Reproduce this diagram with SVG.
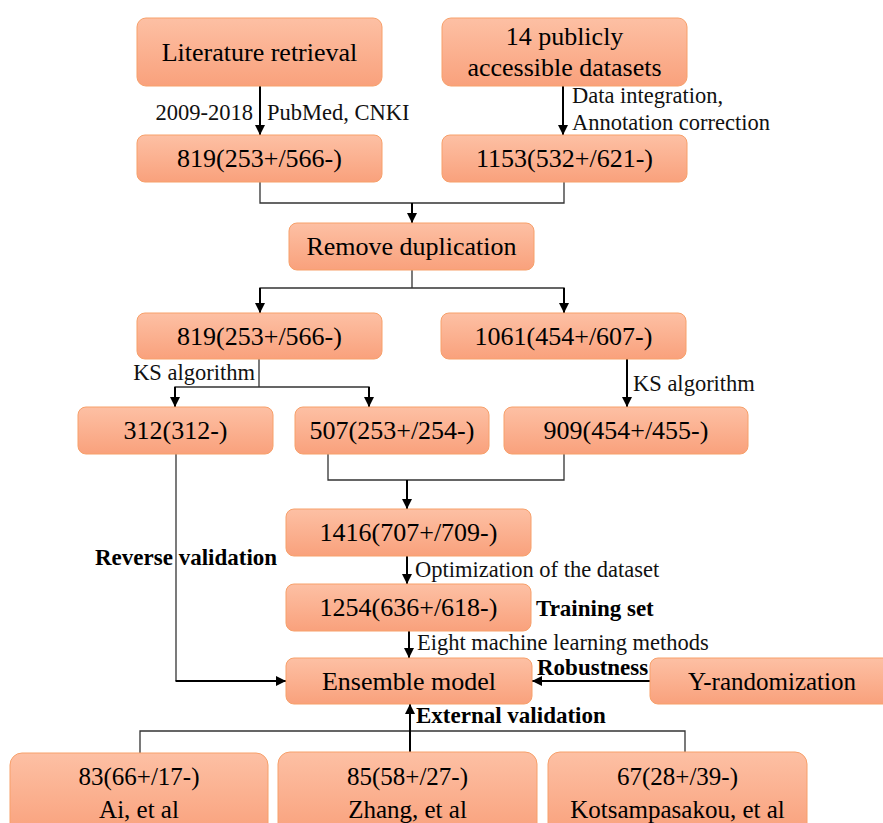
<svg xmlns="http://www.w3.org/2000/svg" width="883" height="823" viewBox="0 0 883 823">
<defs>
<linearGradient id="g" x1="0" y1="0" x2="0" y2="1">
<stop offset="0" stop-color="#fdc0a4"/>
<stop offset="1" stop-color="#f9a17c"/>
</linearGradient>
<marker id="ah" viewBox="0 0 10 10" refX="10" refY="5" markerWidth="5" markerHeight="5" orient="auto" markerUnits="strokeWidth">
<path d="M0,0 L10,5 L0,10 z" fill="#000"/>
</marker>
<style>
.box{fill:url(#g);stroke:#f7a06a;stroke-width:1}
.t{font-family:"Liberation Serif","DejaVu Serif",serif;font-size:26px;fill:#000;text-anchor:middle}
.tb{font-family:"Liberation Serif","DejaVu Serif",serif;font-size:25px;fill:#000;text-anchor:middle}
.l{font-family:"Liberation Serif","DejaVu Serif",serif;font-size:22.5px;fill:#111}
.lb{font-family:"Liberation Serif","DejaVu Serif",serif;font-size:23px;font-weight:bold;fill:#000}
.ln{fill:none;stroke:#333;stroke-width:1.3}
.ar{fill:none;stroke:#000;stroke-width:2;marker-end:url(#ah)}
</style>
</defs>
<rect width="883" height="823" fill="#fff"/>

<g id="connectors">
<line class="ar" x1="260" y1="86" x2="260" y2="135"/>
<line class="ar" x1="563" y1="86" x2="563" y2="135"/>
<polyline class="ln" points="260,182 260,203 564,203 564,182"/>
<line class="ar" x1="412" y1="203" x2="412" y2="223"/>
<polyline class="ln" points="412,270 412,288"/>
<polyline class="ln" points="260,313 260,288 564,288 564,313"/>
<line class="ar" x1="260" y1="288" x2="260" y2="313"/>
<line class="ar" x1="564" y1="288" x2="564" y2="313"/>
<polyline class="ln" points="259,359 259,387"/>
<polyline class="ln" points="175,407 175,387 369,387 369,407"/>
<line class="ar" x1="175" y1="387" x2="175" y2="407"/>
<line class="ar" x1="369" y1="387" x2="369" y2="407"/>
<line class="ar" x1="627" y1="359" x2="627" y2="407"/>
<polyline class="ln" points="328,454 328,480 564,480 564,454"/>
<line class="ar" x1="407" y1="480" x2="407" y2="509"/>
<line class="ar" x1="407" y1="556" x2="407" y2="584"/>
<line class="ar" x1="409" y1="631" x2="409" y2="658"/>
<polyline class="ln" points="176,454 176,681"/>
<line class="ar" x1="175.5" y1="681" x2="286" y2="681"/>
<line class="ar" x1="650" y1="681" x2="532" y2="681"/>
<polyline class="ln" points="140,753 140,731 685,731 685,752"/>
<line class="ar" x1="410" y1="752" x2="410" y2="704"/>
</g>

<g id="lit"><rect class="box" x="137" y="18" width="245" height="68" rx="9"/><text class="t" x="259.5" y="61">Literature retrieval</text></g>
<g id="pub"><rect class="box" x="442" y="18" width="245" height="68" rx="9"/><text class="t" x="564.5" y="45">14 publicly</text><text class="t" x="564.5" y="76">accessible datasets</text></g>
<g id="n819a"><rect class="box" x="137" y="135" width="245" height="47" rx="8"/><text class="t" x="259.5" y="167">819(253+/566-)</text></g>
<g id="n1153"><rect class="box" x="442" y="135" width="245" height="47" rx="8"/><text class="t" x="564.5" y="167">1153(532+/621-)</text></g>
<g id="dup"><rect class="box" x="289" y="223" width="245" height="47" rx="8"/><text class="t" x="411.5" y="255">Remove duplication</text></g>
<g id="n819b"><rect class="box" x="137" y="313" width="245" height="46" rx="8"/><text class="t" x="259.5" y="345">819(253+/566-)</text></g>
<g id="n1061"><rect class="box" x="441" y="313" width="245" height="46" rx="8"/><text class="t" x="563.5" y="345">1061(454+/607-)</text></g>
<g id="n312"><rect class="box" x="78" y="407" width="195" height="47" rx="8"/><text class="t" x="175.5" y="439">312(312-)</text></g>
<g id="n507"><rect class="box" x="295" y="407" width="194" height="47" rx="8"/><text class="t" x="392" y="439">507(253+/254-)</text></g>
<g id="n909"><rect class="box" x="504" y="407" width="244" height="47" rx="8"/><text class="t" x="626" y="439">909(454+/455-)</text></g>
<g id="n1416"><rect class="box" x="286" y="509" width="245" height="47" rx="8"/><text class="t" x="408.5" y="541">1416(707+/709-)</text></g>
<g id="n1254"><rect class="box" x="286" y="584" width="245" height="47" rx="8"/><text class="t" x="408.5" y="616">1254(636+/618-)</text></g>
<g id="ens"><rect class="box" x="286" y="658" width="246" height="46" rx="8"/><text class="t" x="409" y="690">Ensemble model</text></g>
<g id="yr"><rect class="box" x="650" y="658" width="244" height="46" rx="8"/><text class="t" x="772" y="690" style="font-size:25px">Y-randomization</text></g>
<g id="ai"><rect class="box" x="10" y="753" width="258" height="82" rx="12"/><text class="tb" x="139" y="785">83(66+/17-)</text><text class="tb" x="139" y="818">Ai, et al</text></g>
<g id="zhang"><rect class="box" x="278" y="752" width="259" height="83" rx="12"/><text class="tb" x="407.5" y="785">85(58+/27-)</text><text class="tb" x="407.5" y="818">Zhang, et al</text></g>
<g id="kots"><rect class="box" x="548" y="752" width="259" height="83" rx="12"/><text class="tb" x="677.5" y="785">67(28+/39-)</text><text class="tb" x="677.5" y="818">Kotsampasakou, et al</text></g>

<g id="labels">
<text class="l" x="253" y="120" text-anchor="end">2009-2018</text>
<text class="l" x="267" y="120">PubMed, CNKI</text>
<text class="l" x="572" y="103">Data integration,</text>
<text class="l" x="572" y="130">Annotation correction</text>
<text class="l" x="255" y="380" text-anchor="end">KS algorithm</text>
<text class="l" x="633" y="391">KS algorithm</text>
<text class="lb" x="95" y="565">Reverse validation</text>
<text class="l" x="415" y="577">Optimization of the dataset</text>
<text class="lb" x="536" y="616">Training set</text>
<text class="l" x="417" y="650">Eight machine learning methods</text>
<text class="lb" x="537" y="675">Robustness</text>
<text class="lb" x="416" y="723">External validation</text>
</g>
</svg>
